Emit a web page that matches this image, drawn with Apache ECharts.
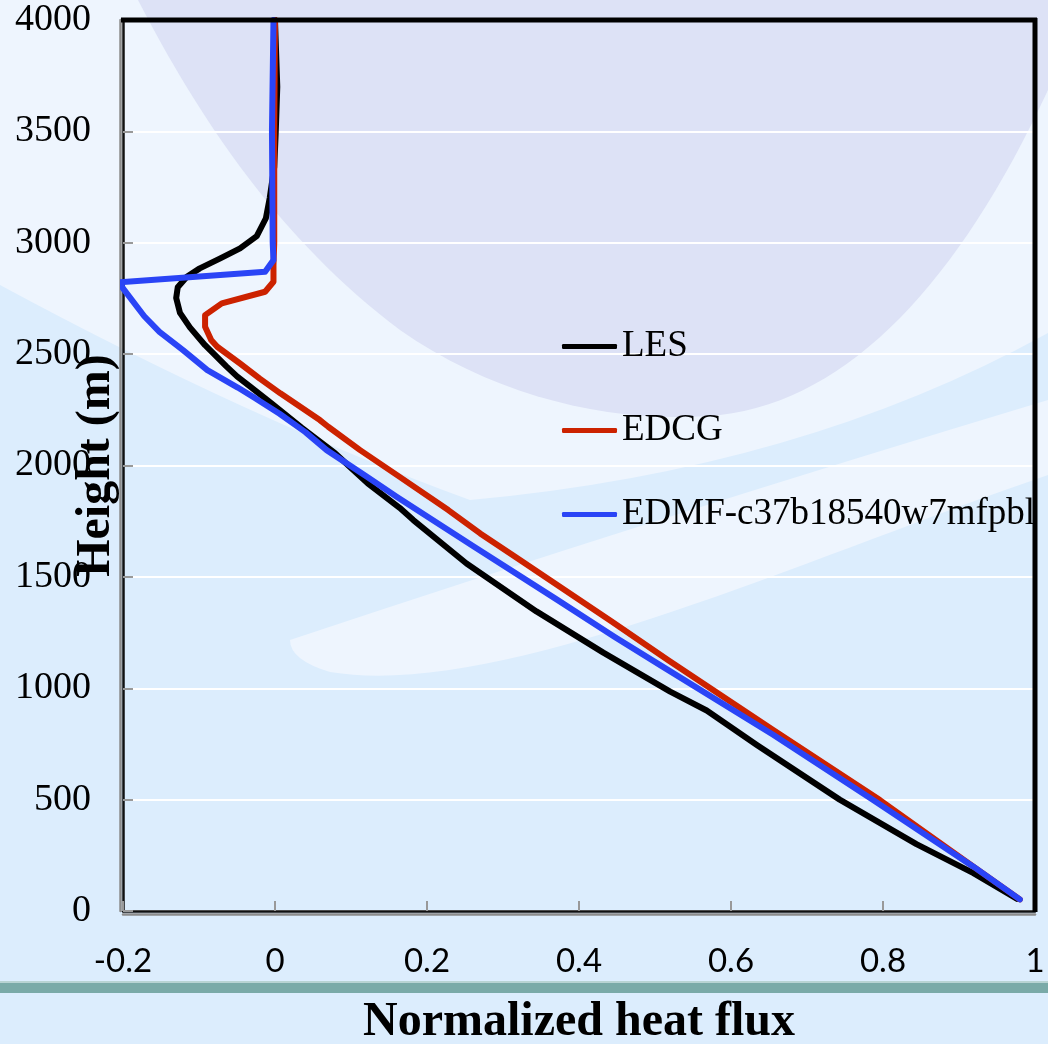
<!DOCTYPE html>
<html><head><meta charset="utf-8">
<script src="https://cdn.jsdelivr.net/npm/echarts@6/dist/echarts.min.js"></script>
<style>html,body{margin:0;padding:0;background:#dcedfd}#c{width:1048px;height:1044px}</style>
</head><body><div id="c"></div>
<script>
const seriesNames = ['LES', 'EDCG', 'EDMF-c37b18540w7mfpbl'];
const seriesColors = ['#000000', '#cc2200', '#2a44f6'];

const lesHeight = [4000, 3700, 3500, 3340, 3200, 3110, 3030, 2975, 2930, 2885, 2847, 2800, 2752, 2685, 2620, 2540, 2445, 2400, 2355, 2280, 2170, 2055, 1920, 1810, 1755, 1560, 1345, 1160, 985, 900, 745, 500, 300, 170, 55];
const lesFlux   = [0.000, 0.003, 0.001, -0.001, -0.007, -0.012, -0.024, -0.046, -0.072, -0.099, -0.116, -0.128, -0.130, -0.125, -0.112, -0.092, -0.064, -0.050, -0.033, -0.005, 0.035, 0.079, 0.122, 0.164, 0.182, 0.252, 0.344, 0.432, 0.520, 0.568, 0.634, 0.743, 0.844, 0.919, 0.976];

const edcgHeight = [4000, 3500, 3000, 2900, 2825, 2780, 2728, 2675, 2623, 2563, 2533, 2458, 2390, 2324, 2204, 2174, 2069, 1949, 1800, 1695, 1590, 1300, 1127, 812, 498, 199, 52];
const edcgFlux   = [0.000, -0.001, -0.001, -0.002, -0.002, -0.013, -0.070, -0.092, -0.092, -0.084, -0.076, -0.046, -0.020, 0.007, 0.059, 0.070, 0.112, 0.164, 0.228, 0.270, 0.316, 0.443, 0.517, 0.656, 0.796, 0.919, 0.980];

const edmfHeight = [4000, 3500, 3000, 2922, 2870, 2822, 2795, 2670, 2600, 2518, 2428, 2350, 2300, 2232, 2150, 2069, 1950, 1860, 1635, 1400, 1230, 1097, 790, 498, 199, 52];
const edmfFlux   = [-0.002, -0.004, -0.003, -0.002, -0.013, -0.205, -0.200, -0.172, -0.152, -0.121, -0.089, -0.049, -0.025, 0.006, 0.040, 0.068, 0.121, 0.160, 0.262, 0.370, 0.447, 0.510, 0.656, 0.787, 0.919, 0.980];

const serif = "'Liberation Serif', 'Times New Roman', serif";
const pair = (f, h) => f.map((v, i) => [v, h[i]]);

// decorative slide background shapes
echarts.graphic.registerShape('bgLight', echarts.graphic.extendPath('M0,0 L1048,0 L1048,333 Q800,470 470,500 Q250,420 0,285 Z'));
echarts.graphic.registerShape('bgLavender', echarts.graphic.extendPath('M138,0 C200,120 280,240 400,330 C500,400 620,425 720,415 C850,400 960,280 1048,90 L1048,0 Z'));
echarts.graphic.registerShape('bgSwoosh', echarts.graphic.extendPath('M290,640 Q650,520 1048,400 L1048,475 C800,560 500,700 330,672 Q290,660 290,640 Z'));

const chart = echarts.init(document.getElementById('c'));

function mk(name, f, h, color) {
  return {
    name: name, type: 'line', data: pair(f, h), symbol: 'none', clip: true,
    itemStyle: { color: color },
    lineStyle: { color: color, width: 6, cap: 'round', join: 'round' },
    z: 5
  };
}

chart.setOption({
  backgroundColor: '#dcedfd',
  animation: false,
  graphic: { elements: [
    { type: 'bgLight', z: -20, silent: true, style: { fill: '#eef5fe' } },
    { type: 'bgLavender', z: -19, silent: true, style: { fill: '#dde2f6' } },
    { type: 'bgSwoosh', z: -18, silent: true, style: { fill: '#eef5fe' } },
    { type: 'rect', z: -17, silent: true,
      shape: { x: 0, y: 981, width: 1048, height: 2 }, style: { fill: '#b8d3d3' } },
    { type: 'rect', z: -17, silent: true,
      shape: { x: 0, y: 983, width: 1048, height: 10 }, style: { fill: '#7aaaa8' } },
    // plot frame (top and right black edges)
    { type: 'line', z: 50, silent: true,
      shape: { x1: 121, y1: 20, x2: 1037, y2: 20 }, style: { stroke: '#000', lineWidth: 5 } },
    { type: 'line', z: 50, silent: true,
      shape: { x1: 1035, y1: 18, x2: 1035, y2: 912 }, style: { stroke: '#000', lineWidth: 5 } }
  ]},
  grid: { left: 123, right: 13, top: 20, bottom: 133, show: false,
          containLabel: false, outerBoundsMode: 'none' },
  legend: {
    orient: 'vertical', left: 557, top: 323, itemWidth: 55, itemHeight: 5, itemGap: 47,
    icon: 'roundRect', data: seriesNames,
    textStyle: { fontFamily: serif, fontSize: 37, color: '#000' }
  },
  xAxis: {
    type: 'value', min: -0.2, max: 1, interval: 0.2,
    name: 'Normalized heat flux', nameLocation: 'middle', nameGap: 88, nameMoveOverlap: false,
    nameTextStyle: { fontFamily: serif, fontWeight: 'bold', fontSize: 48, color: '#000' },
    axisLine: { show: true, onZero: false, lineStyle: { color: '#111', width: 2.5, shadowColor: '#8c8c8c', shadowOffsetY: 3, shadowBlur: 0 } },
    axisTick: { show: true, inside: true, length: 10, lineStyle: { color: '#999', width: 2 } },
    axisLabel: { fontFamily: "Lato, 'Open Sans', sans-serif", fontSize: 33, color: '#000', margin: 34,
                 formatter: v => String(Math.round(v * 10) / 10) },
    splitLine: { show: false }
  },
  yAxis: {
    type: 'value', min: 0, max: 4000, interval: 500,
    name: 'Height (m)', nameLocation: 'middle', nameGap: 2, nameMoveOverlap: false,
    nameTextStyle: { fontFamily: serif, fontWeight: 'bold', fontSize: 48, color: '#000' },
    axisLine: { show: true, onZero: false, lineStyle: { color: '#111', width: 2.5, shadowColor: '#8c8c8c', shadowOffsetX: -3, shadowBlur: 0 } },
    axisTick: { show: true, inside: true, length: 10, lineStyle: { color: '#999', width: 2 } },
    axisLabel: { fontFamily: serif, fontSize: 38, color: '#000', margin: 32, formatter: v => String(v) },
    splitLine: { show: true, lineStyle: { color: '#ffffff', width: 2 } }
  },
  series: [
    mk(seriesNames[0], lesFlux, lesHeight, seriesColors[0]),
    mk(seriesNames[1], edcgFlux, edcgHeight, seriesColors[1]),
    mk(seriesNames[2], edmfFlux, edmfHeight, seriesColors[2])
  ]
});
</script>
</body></html>
